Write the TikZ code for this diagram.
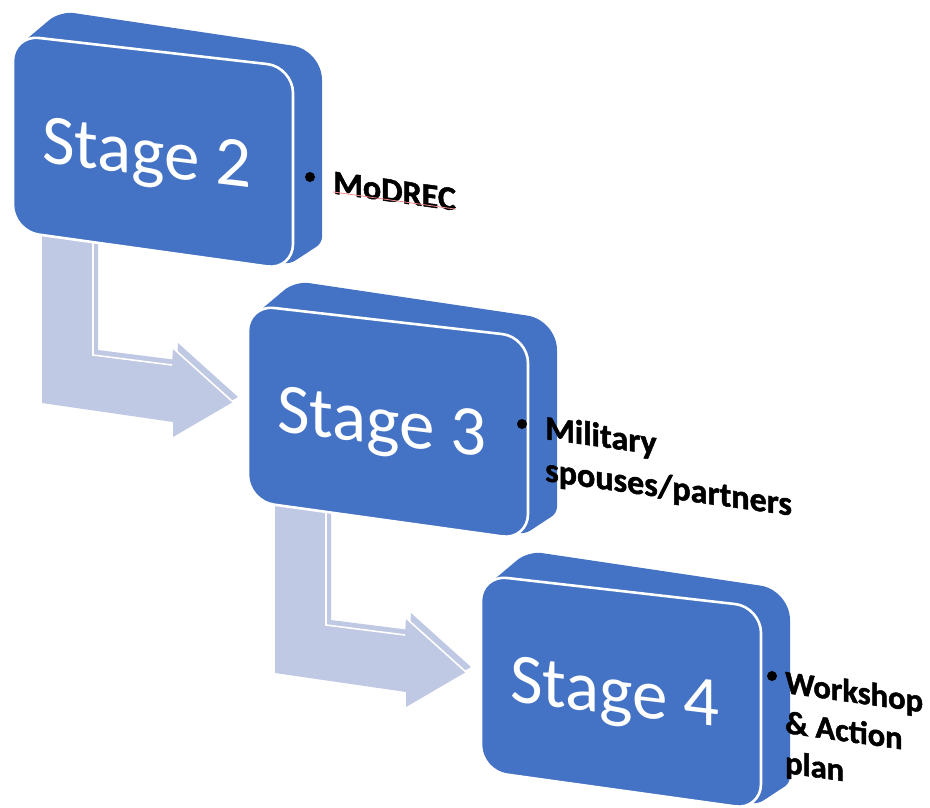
\documentclass[tikz,border=0pt]{standalone}
\usepackage{fontspec}
\setmainfont{Carlito}
\newfontfamily\labelfont{Carlito}[BoldFeatures={FakeBold=1.5}]
\definecolor{boxblue}{HTML}{4472C4}
\definecolor{arrowfill}{HTML}{C0C9E4}
\definecolor{spellred}{HTML}{F08A8A}
\begin{document}
\begin{tikzpicture}[x=1pt,y=-1pt,
  stagetext/.style={text=white, font=\fontsize{71}{84}\selectfont, yslant=-0.12, inner sep=0pt, anchor=base},
  labeltext/.style={text=black, font=\labelfont\bfseries\fontsize{34}{42}\selectfont, yslant=-0.14, inner sep=0pt, anchor=north west, align=left},
  bulletdot/.style={circle, fill=black, inner sep=0pt, minimum size=10pt},
  stagebox/.pic={
    \fill[boxblue] (28,38) [rounded corners=14] -- (60,11) [rounded corners=30] -- (322,50) [rounded corners=6] -- (322,243) -- (290,264) [sharp corners] -- (150,240) -- cycle;
    \filldraw[fill=boxblue, draw=white, line width=2.6pt, rounded corners=26] (13,140) -- (13,35) -- (293,67) -- (293,270) -- (13,231) -- cycle;
  },
  bentarrow/.pic={
    \fill[arrowfill] (42,225) -- (93,225) -- (93,355) -- (172,365) -- (173,348) -- (233,402) -- (173,437) -- (173,422) -- (42,403) -- cycle;
    \draw[white, line width=1.6pt] (93,225) -- (93,355) -- (172,365);
    \draw[white, line width=1.6pt] (173,348) -- (233,402);
  },
  arrowback/.pic={
    \fill[arrowfill] (47,220) -- (98,220) -- (98,350) -- (177,360) -- (178,343) -- (238,397) -- (178,432) -- (178,417) -- (47,398) -- cycle;
  }]
\useasboundingbox (0,0) rectangle (930,807);
\clip (0,0) rectangle (930,807);

% bent arrows (behind the boxes)
\pic at (0,0) {arrowback};
\pic at (0,0) {bentarrow};
\pic at (233,270) {arrowback};
\pic at (233,270) {bentarrow};

% 3D stage boxes
\pic at (0,0) {stagebox};
\pic at (235,270) {stagebox};
\pic at (468,540) {stagebox};

% stage titles
\node[stagetext] (s2) at (147,175) {Stage 2};
\node[stagetext] (s3) at (382,444) {Stage 3};
\node[stagetext] (s4) at (615,714) {Stage 4};

% bullets and labels
\node[bulletdot] (b2) at (310,177) {};
\node[labeltext] (l2) at (333,171) {MoDREC};
\draw[spellred, line width=0.8pt] ([yshift=2pt]l2.south west) -- ([yshift=2pt]l2.south east);

\node[bulletdot] (b3) at (522,424) {};
\node[labeltext] (l3) at (545,415) {Military\\spouses/partners};

\node[bulletdot] (b4) at (772,676) {};
\node[labeltext, font=\labelfont\bfseries\fontsize{32.5}{40}\selectfont] (l4) at (785,670) {Workshop\\\& Action\\plan};
\end{tikzpicture}
\end{document}
